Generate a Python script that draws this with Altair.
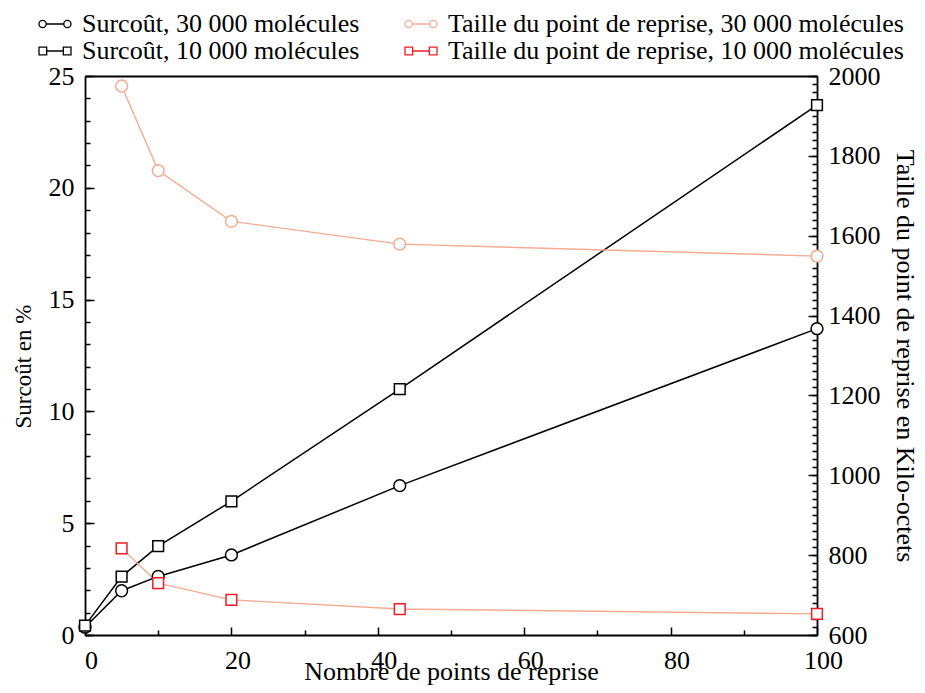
import altair as alt
import pandas as pd

# ---------------- data ----------------
x_vals = [0, 5, 10, 20, 43, 100]
surcout_30000 = [0.35, 1.98, 2.62, 3.58, 6.68, 13.7]
surcout_10000 = [0.42, 2.61, 3.97, 5.98, 11.0, 23.7]

x_taille = [5, 10, 20, 43, 100]
taille_30000 = [1975, 1763, 1636, 1579, 1549]
taille_10000 = [817, 730, 688, 665, 653]

series = [
    "Surcoût, 30 000 molécules",
    "Taille du point de reprise, 30 000 molécules",
    "Surcoût, 10 000 molécules",
    "Taille du point de reprise, 10 000 molécules",
]
SALMON = "#f5ab92"
RED = "#ee1c25"

x_labels = [0, 20, 40, 60, 80, 100]
x_minor = [10, 30, 50, 70, 90]
ys_labels = [0, 5, 10, 15, 20, 25]
ys_minor = list(range(0, 26))
yt_labels = [600, 800, 1000, 1200, 1400, 1600, 1800, 2000]
yt_minor = list(range(600, 2001, 20))

df_s30 = pd.DataFrame({"x": x_vals, "y": surcout_30000, "serie": series[0]})
df_s10 = pd.DataFrame({"x": x_vals, "y": surcout_10000, "serie": series[2]})
df_t30 = pd.DataFrame({"x": x_taille, "y": taille_30000, "serie": series[1]})
df_t10 = pd.DataFrame({"x": x_taille, "y": taille_10000, "serie": series[3]})

# ---------------- styling ----------------
FONT = "Liberation Serif"
W, H = 732, 559


def circ(cx, r):
    k = 0.5523 * r
    f = lambda v: f"{v:.3f}"
    return (f"M{f(cx-r)},0C{f(cx-r)},{f(-k)} {f(cx-k)},{f(-r)} {f(cx)},{f(-r)}"
            f"C{f(cx+k)},{f(-r)} {f(cx+r)},{f(-k)} {f(cx+r)},0"
            f"C{f(cx+r)},{f(k)} {f(cx+k)},{f(r)} {f(cx)},{f(r)}"
            f"C{f(cx-k)},{f(r)} {f(cx-r)},{f(k)} {f(cx-r)},0Z")


def sq(cx, h):
    return f"M{cx-h:.3f},{-h:.3f}L{cx+h:.3f},{-h:.3f}L{cx+h:.3f},{h:.3f}L{cx-h:.3f},{h:.3f}Z"


rc, rs = 0.225, 0.24
circ_path = circ(-1 + rc, rc) + circ(1 - rc, rc) + f"M{-1+2*rc:.3f},0L{1-2*rc:.3f},0"
sq_path = sq(-1 + rs, rs) + sq(1 - rs, rs) + f"M{-1+2*rs:.3f},0L{1-2*rs:.3f},0"

leg_common = dict(orient="none", legendX=-47, columns=2, title=None,
                  labelFont=FONT, labelFontSize=26, labelColor="black",
                  symbolSize=1024, labelOffset=10, columnPadding=42, rowPadding=0, padding=0,
                  symbolStrokeWidth=1.3, labelLimit=600, symbolFillColor="white",
                  symbolOpacity=1)
legend_circ = alt.Legend(legendY=-69, symbolType=circ_path, **leg_common)
legend_sq = alt.Legend(legendY=-42, symbolType=sq_path, **leg_common)

stroke_enc = alt.Stroke("serie:N", scale=alt.Scale(domain=[series[0], series[1]], range=["black", SALMON]),
                        legend=legend_circ)
color_enc = alt.Color("serie:N", scale=alt.Scale(domain=[series[2], series[3]], range=["black", RED]),
                      legend=legend_sq)

tick_common = dict(labels=False, domain=False, grid=False, title=None, ticks=True,
                   tickColor="black", tickWidth=1.5)
label_common = dict(labelFont=FONT, labelFontSize=26, labelColor="black", labelFlush=False,
                    labelOverlap=False, ticks=False, tickSize=0, grid=False,
                    domainColor="black", domainWidth=1.8, titleFont=FONT,
                    titleFontWeight="normal", titleColor="black")

x_main = alt.Axis(orient="bottom", values=x_labels, labelPadding=33, labelBaseline="alphabetic",
                  labelOffset=6, title="Nombre de points de reprise", titleFontSize=26,
                  titleY=44, titleBaseline="alphabetic", **label_common)
x_major = alt.Axis(orient="top", offset=-H, values=x_labels, tickSize=8, **tick_common)
x_minor_ax = alt.Axis(orient="top", offset=-H, values=x_minor, tickSize=5, **tick_common)
x_top = alt.Axis(orient="top", labels=False, ticks=False, grid=False, title=None,
                 domainColor="black", domainWidth=1.8)

ys_main = alt.Axis(orient="left", values=ys_labels, labelPadding=11, title="Surcoût en %",
                   titleFontSize=23, titleX=-62, titleY=290, titleAngle=270, titleBaseline="middle",
                   **label_common)
ys_major = alt.Axis(orient="right", offset=-W, values=ys_labels, tickSize=9, **tick_common)
ys_minor_ax = alt.Axis(orient="right", offset=-W, values=ys_minor, tickSize=5, **tick_common)

yt_main = alt.Axis(orient="right", values=yt_labels, labelPadding=11, format="d",
                   title="Taille du point de reprise en Kilo-octets", titleFontSize=26,
                   titleX=87, titleAngle=90, titleBaseline="middle", **label_common)
yt_major = alt.Axis(orient="left", offset=-W, values=yt_labels, tickSize=9, **tick_common)
yt_minor_ax = alt.Axis(orient="left", offset=-W, values=yt_minor, tickSize=5, **tick_common)

xscale = alt.Scale(domain=[0, 100], nice=False, zero=False)
ys_scale = alt.Scale(domain=[0, 25], nice=False, zero=False)
yt_scale = alt.Scale(domain=[600, 2000], nice=False, zero=False)


def X(axis):
    return alt.X("x:Q", scale=xscale, axis=axis)


def YS(axis):
    return alt.Y("y:Q", scale=ys_scale, axis=axis)


def YT(axis):
    return alt.Y("y:Q", scale=yt_scale, axis=axis)


line_s30 = alt.Chart(df_s30).mark_line(strokeWidth=1.5, color="black").encode(x=X(x_main), y=YS(ys_main))
line_s10 = alt.Chart(df_s10).mark_line(strokeWidth=1.5, color="black").encode(x=X(x_major), y=YS(ys_major))
line_t30 = alt.Chart(df_t30).mark_line(strokeWidth=1.4, color=SALMON).encode(x=X(x_minor_ax), y=YT(yt_main))
line_t10 = alt.Chart(df_t10).mark_line(strokeWidth=1.4, color=SALMON).encode(x=X(x_top), y=YT(yt_major))

circ_kw = dict(shape="circle", filled=True, fill="white", size=140, strokeWidth=1.5, opacity=1)
sq_kw = dict(shape="square", filled=False, fill="white", size=115, strokeWidth=1.5, opacity=1)

pts_s30 = alt.Chart(df_s30).mark_point(**circ_kw).encode(x=X(None), y=YS(ys_minor_ax), stroke=stroke_enc)
pts_t30 = alt.Chart(df_t30).mark_point(**circ_kw).encode(x=X(None), y=YT(yt_minor_ax), stroke=stroke_enc)
pts_s10 = alt.Chart(df_s10).mark_point(**sq_kw).encode(x=X(None), y=YS(None), color=color_enc)
pts_t10 = alt.Chart(df_t10).mark_point(**sq_kw).encode(x=X(None), y=YT(None), color=color_enc)

chart = alt.layer(
    line_s30, line_s10, line_t30, line_t10, pts_s30, pts_t30, pts_s10, pts_t10
).resolve_scale(
    y="independent"
).resolve_axis(
    x="independent", y="independent"
).properties(
    width=W, height=H,
    autosize=alt.AutoSizeParams(type="none"),
    padding={"left": 77, "top": 68, "right": 100, "bottom": 50},
    background="white",
).configure(font=FONT).configure_view(stroke=None)

chart.save("out.html", embed_options={"renderer": "svg", "actions": False})
